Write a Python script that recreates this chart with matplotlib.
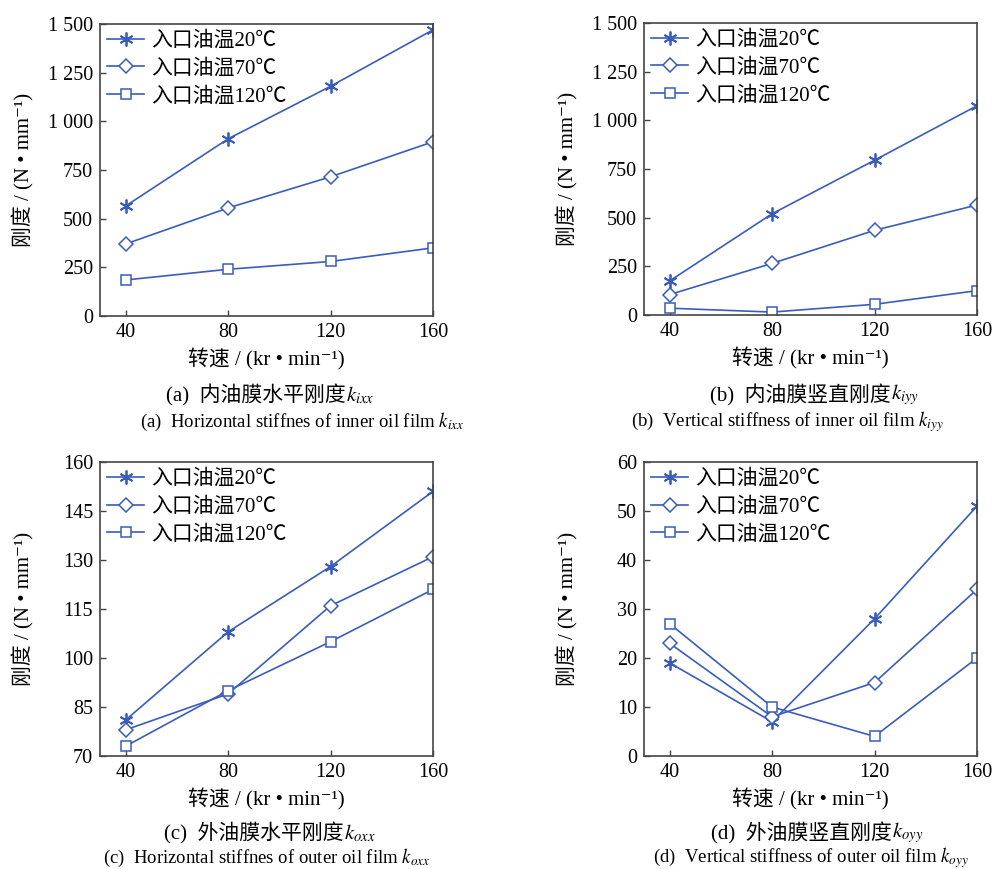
import matplotlib.pyplot as plt

plt.rcParams['font.family'] = ['Liberation Serif', 'Noto Sans CJK SC', 'DejaVu Sans']
plt.rcParams['mathtext.fontset'] = 'stix'

# 转速 (kr/min)
speed = [40, 80, 120, 160]
legend_labels = ['入口油温20℃', '入口油温70℃', '入口油温120℃']

# (a) 内油膜水平刚度
kixx_20 = [565, 910, 1180, 1470]
kixx_70 = [370, 555, 715, 895]
kixx_120 = [185, 240, 280, 350]
# (b) 内油膜竖直刚度
kiyy_20 = [175, 520, 795, 1075]
kiyy_70 = [105, 265, 435, 565]
kiyy_120 = [35, 15, 55, 125]
# (c) 外油膜水平刚度
koxx_20 = [81, 108, 128, 151]
koxx_70 = [78, 89, 116, 131]
koxx_120 = [73, 90, 105, 121]
# (d) 外油膜竖直刚度
koyy_20 = [19, 7, 28, 51]
koyy_70 = [23, 8, 15, 34]
koyy_120 = [27, 10, 4, 20]

yticks_a = [0, 250, 500, 750, 1000, 1250, 1500]
yticklabels_a = ['0', '250', '500', '750', '1 000', '1 250', '1 500']
yticks_c = [70, 85, 100, 115, 130, 145, 160]
yticks_d = [0, 10, 20, 30, 40, 50, 60]

cn_captions = ['(a)  内油膜水平刚度', '(b)  内油膜竖直刚度', '(c)  外油膜水平刚度', '(d)  外油膜竖直刚度']
k_names = [r'$k_{ixx}$', r'$k_{iyy}$', r'$k_{oxx}$', r'$k_{oyy}$']
en_captions = [r'(a)  Horizontal stiffnes of inner oil film $k_{ixx}$',
               r'(b)  Vertical stiffness of inner oil film $k_{iyy}$',
               r'(c)  Horizontal stiffnes of outer oil film $k_{oxx}$',
               r'(d)  Vertical stiffness of outer oil film $k_{oyy}$']

blue = '#3a5cbb'
W, H = 994, 869
fig = plt.figure(figsize=(W / 100, H / 100), dpi=100)

# 轴的位置(像素): 左, 上, 右, 下
boxes = [(100, 24, 433, 316), (644, 23, 977, 315),
         (100, 462, 433, 756), (644, 462, 977, 756)]
data = [(kixx_20, kixx_70, kixx_120), (kiyy_20, kiyy_70, kiyy_120),
        (koxx_20, koxx_70, koxx_120), (koyy_20, koyy_70, koyy_120)]
# 中文标题分割点x, y ; 英文标题中心x, y
cap_pos = [(346, 395, 302, 422), (891, 395, 787, 422),
           (344, 833, 267, 858), (892, 833, 811, 858)]

for i in range(4):
    l, t, r, b = boxes[i]
    ax = fig.add_axes([l / W, 1 - b / H, (r - l) / W, (b - t) / H])
    s20, s70, s120 = data[i]
    ax.plot(speed, s20, color=blue, lw=1.2, marker=(6, 2, 0), ms=10, mew=1.3, label=legend_labels[0])
    ax.plot(speed, s70, color=blue, lw=1.2, marker='D', ms=7, mfc='white', mew=1.1, label=legend_labels[1])
    ax.plot(speed, s120, color=blue, lw=1.2, marker='s', ms=6.5, mfc='white', mew=1.1, label=legend_labels[2])

    ax.set_xlim(30, 160)
    ax.set_xticks(speed)
    if i < 2:
        ax.set_ylim(0, 1500)
        ax.set_yticks(yticks_a)
        ax.set_yticklabels(yticklabels_a)
    elif i == 2:
        ax.set_ylim(70, 160)
        ax.set_yticks(yticks_c)
    else:
        ax.set_ylim(0, 60)
        ax.set_yticks(yticks_d)

    ax.tick_params(direction='in', length=4, width=1, labelsize=14.5, color='#444444', pad=5)
    for sp in ax.spines.values():
        sp.set_color('#444444')
        sp.set_linewidth(1.2)

    ax.set_xlabel('转速 / (kr • min⁻¹)', fontsize=15, labelpad=5)
    ax.set_ylabel('刚度 / (N • mm⁻¹)', fontsize=15, va='center')
    ax.yaxis.set_label_coords(-0.231, 0.5)
    ax.legend(loc='upper left', frameon=False, fontsize=15, handlelength=1.75,
              borderaxespad=0.2, labelspacing=0.4, handletextpad=0.35, borderpad=0.15)

    x1, y1, x2, y2 = cap_pos[i]
    fig.text(x1 / W, 1 - y1 / H, cn_captions[i], ha='right', va='center', fontsize=15)
    fig.text(x1 / W, 1 - y1 / H, k_names[i], ha='left', va='center', fontsize=15)
    fig.text(x2 / W, 1 - y2 / H, en_captions[i], ha='center', va='center', fontsize=13.5)

fig.savefig('out.png', dpi=100, facecolor='white')
